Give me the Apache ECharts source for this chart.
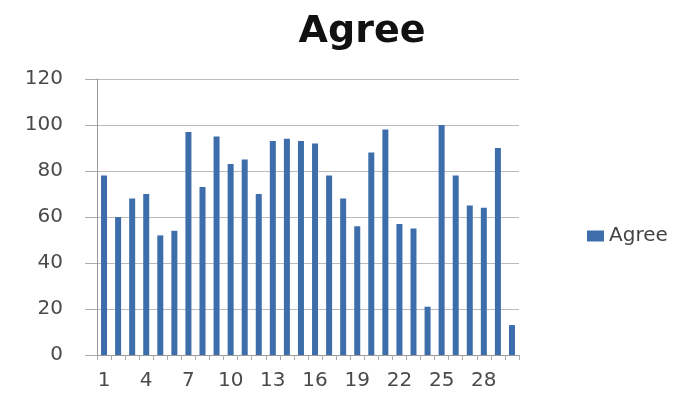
<!DOCTYPE html>
<html>
<head>
<meta charset="utf-8">
<script src="https://cdn.jsdelivr.net/npm/echarts@6/dist/echarts.min.js"></script>
<style>
  html, body { margin: 0; padding: 0; background: #fff; }
  #chart { width: 689px; height: 396px; }
</style>
</head>
<body>
<div id="chart"></div>
<script>
// Respondent numbers along the x axis
const categories = Array.from({ length: 30 }, (_, i) => String(i + 1));
// "Agree" scores per respondent
const agreeValues = [78, 60, 68, 70, 52, 54, 97, 73, 95, 83, 85, 70, 93, 94, 93,
                     92, 78, 68, 56, 88, 98, 57, 55, 21, 100, 78, 65, 64, 90, 13];
const yTicks = { min: 0, max: 120, interval: 20 };

const labelFont = { fontFamily: 'DejaVu Sans', fontSize: 20, color: '#4a4a4a' };

const chart = echarts.init(document.getElementById('chart'));
chart.setOption({
  animation: false,
  title: {
    text: 'Agree',
    left: 357,
    top: 8,
    textAlign: 'center',
    textStyle: { fontFamily: 'DejaVu Sans', fontWeight: 'bold', fontSize: 38, color: '#111' }
  },
  legend: {
    data: ['Agree'],
    orient: 'vertical',
    left: 582,
    top: 221,
    itemWidth: 17,
    itemHeight: 11,
    itemGap: 6,
    icon: 'rect',
    textStyle: { fontFamily: 'DejaVu Sans', fontSize: 20, color: '#444' }
  },
  grid: { left: 97, right: 170, top: 79, bottom: 41 },
  xAxis: {
    type: 'category',
    data: categories,
    axisLine: { lineStyle: { color: '#999' } },
    axisTick: { show: true, length: 5, interval: 0, lineStyle: { color: '#aaa' } },
    axisLabel: Object.assign({ interval: 2, margin: 16 }, labelFont)
  },
  yAxis: {
    type: 'value',
    min: yTicks.min,
    max: yTicks.max,
    interval: yTicks.interval,
    axisLine: { show: true, lineStyle: { color: '#999' } },
    axisTick: { show: true, length: 12, lineStyle: { color: '#aaa' } },
    splitLine: { lineStyle: { color: '#bbb' } },
    axisLabel: Object.assign({ margin: 34 }, labelFont)
  },
  series: [{
    name: 'Agree',
    type: 'bar',
    data: agreeValues,
    barWidth: 6,
    itemStyle: { color: '#3d6eab' }
  }]
});
</script>
</body>
</html>
